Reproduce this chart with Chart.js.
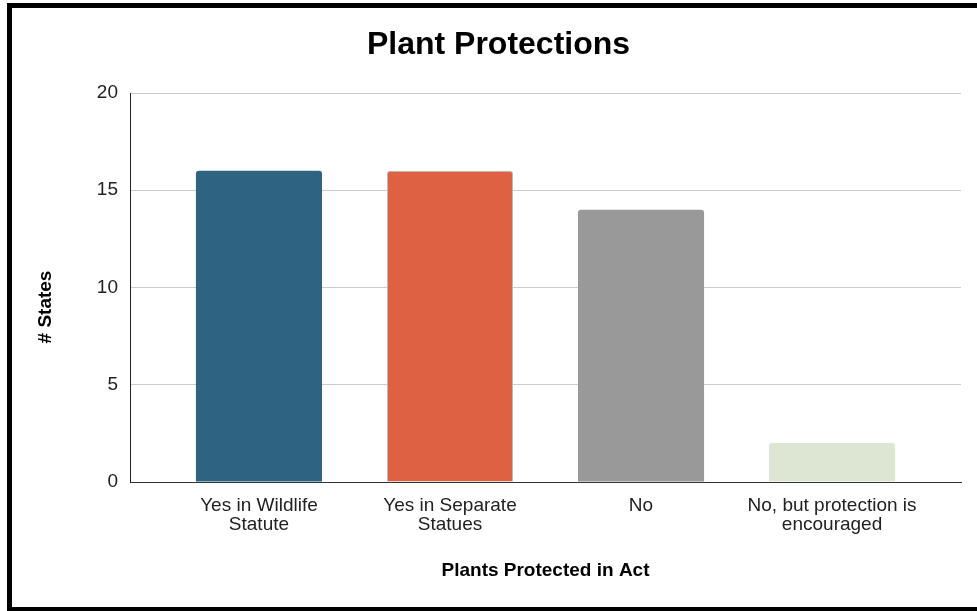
<!DOCTYPE html>
<html>
<head>
<meta charset="utf-8">
<script src="https://cdn.jsdelivr.net/npm/chart.js@4/dist/chart.umd.min.js"></script>
<style>
  html, body { margin: 0; padding: 0; background: #fff; overflow: hidden; }
  #frame {
    position: absolute; left: 7px; top: 3px; right: -20px; height: 609px;
    box-sizing: border-box;
    border-left: 5px solid #000; border-top: 5px solid #000; border-bottom: 5px solid #000;
  }
  #wrap { position: absolute; left: 0; top: 0; width: 977px; height: 611px; }
</style>
</head>
<body>
<div id="frame"></div>
<div id="wrap"><canvas id="plantChart"></canvas></div>
<script>
// chart data
const categories = [
  ["Yes in Wildlife", "Statute"],
  ["Yes in Separate", "Statues"],
  ["No"],
  ["No, but protection is", "encouraged"],
];
const stateCounts = [16, 16, 14, 2];
const yTickLabels = [0, 5, 10, 15, 20];

const barColors = ["#2e6481", "#dd6142", "#999999", "#dde5d3"];
const barBorders = ["#2e6481", "#b9b9b9", "#999999", "#dde5d3"];

const FONT = "'Liberation Sans', Arial, Helvetica, sans-serif";

// y axis title is centred on the whole frame, not on the plot, so draw it by hand
const yTitlePlugin = {
  id: "yTitle",
  afterDraw(chart) {
    const ctx = chart.ctx;
    ctx.save();
    ctx.translate(46, 307);
    ctx.rotate(-Math.PI / 2);
    ctx.font = "bold 19px " + FONT;
    ctx.fillStyle = "#000";
    ctx.textAlign = "center";
    ctx.textBaseline = "middle";
    ctx.fillText("# States", 0, 0);
    ctx.restore();
  },
};

new Chart(document.getElementById("plantChart"), {
  type: "bar",
  data: {
    datasets: [
      {
        label: "# States",
        data: stateCounts.map((v, i) => ({ x: i, y: v })),
        backgroundColor: barColors,
        borderColor: barBorders,
        borderWidth: [0, 1, 0, 0],
        borderSkipped: "bottom",
        borderRadius: 3,
        barPercentage: 0.66,
        categoryPercentage: 1,
      },
    ],
  },
  plugins: [yTitlePlugin],
  options: {
    responsive: true,
    maintainAspectRatio: false,
    animation: false,
    layout: { padding: { left: 20, right: 0, top: 0, bottom: 0 } },
    plugins: {
      legend: { display: false },
      tooltip: { enabled: false },
      title: {
        display: true,
        text: "Plant Protections",
        color: "#000",
        font: { family: FONT, size: 32, weight: "bold" },
        padding: { top: 26, bottom: 28.6 },
      },
    },
    scales: {
      x: {
        type: "linear",
        offset: false,
        min: -0.675,
        max: categories.length - 1 + 0.675,
        grid: { display: false },
        border: { display: true, color: "#333", width: 1 },
        afterBuildTicks: (scale) => {
          scale.ticks = categories.map((c, i) => ({ value: i }));
        },
        afterFit: (scale) => {
          scale.height = 129;
        },
        ticks: {
          autoSkip: false,
          maxRotation: 0,
          padding: 7,
          color: "#222",
          font: { family: FONT, size: 19, lineHeight: 0.96 },
          callback: (value) => categories[value],
        },
        title: {
          display: true,
          text: "Plants Protected in Act",
          color: "#000",
          font: { family: FONT, size: 19, weight: "bold" },
          padding: { top: 0, bottom: 29 },
        },
      },
      y: {
        min: yTickLabels[0],
        max: yTickLabels[yTickLabels.length - 1],
        afterFit: (scale) => {
          scale.width = 110;
        },
        ticks: {
          stepSize: yTickLabels[1] - yTickLabels[0],
          padding: 12,
          color: "#222",
          font: { family: FONT, size: 19 },
        },
        grid: { color: "#cccccc", lineWidth: 1, drawTicks: false },
        border: { display: true, color: "#222", width: 1 },
      },
      // empty right axis, only used to keep the plot off the right edge
      yRight: {
        type: "linear",
        position: "right",
        display: true,
        grid: { display: false },
        ticks: { display: false },
        border: { display: false },
        afterFit: (scale) => {
          scale.width = 16;
        },
      },
    },
  },
});
</script>
</body>
</html>
